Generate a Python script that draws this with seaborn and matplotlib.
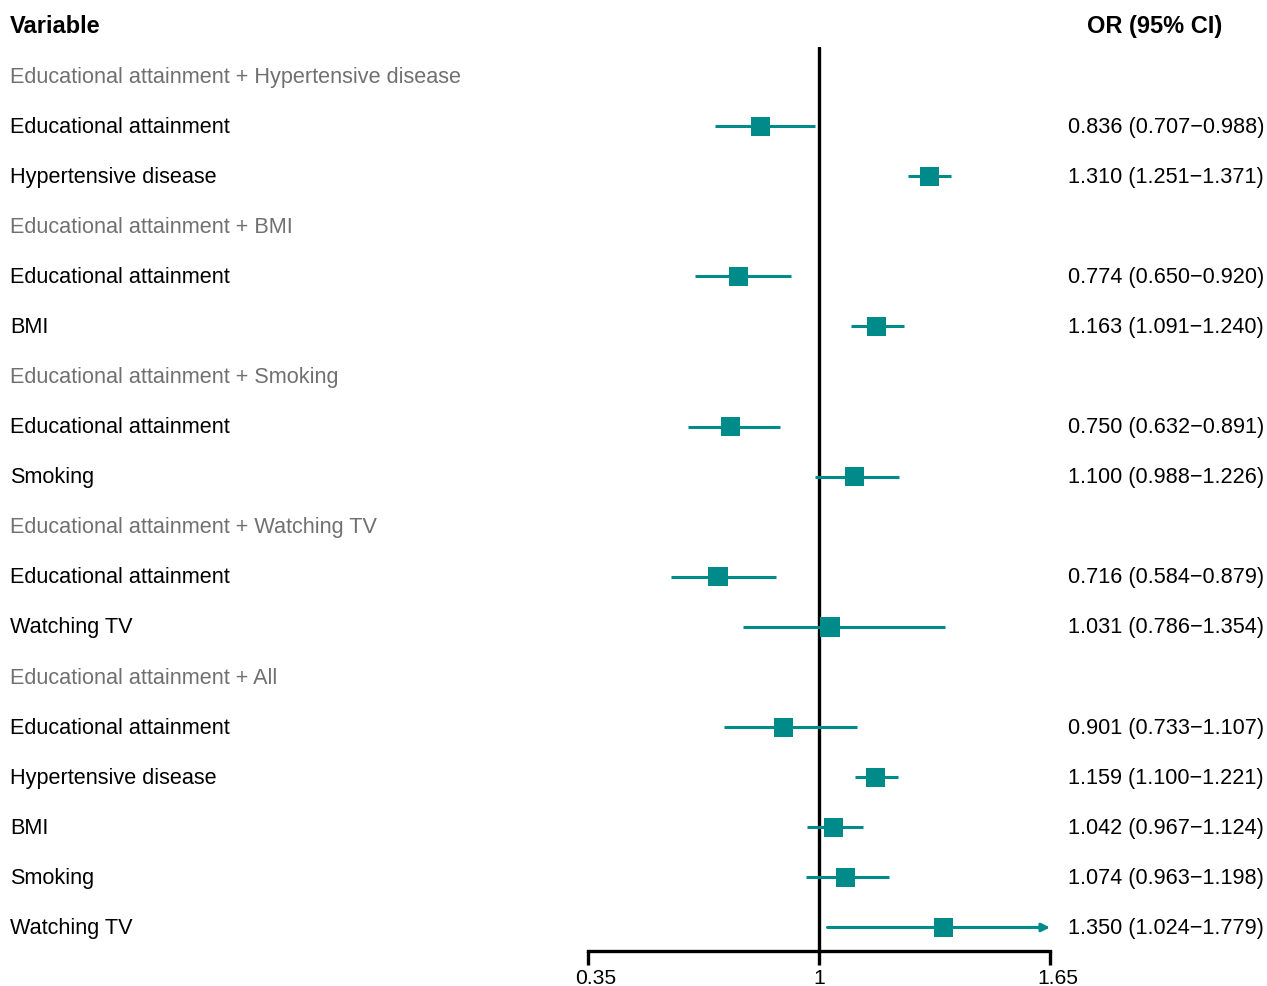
import numpy as np
import pandas as pd
import matplotlib
matplotlib.use("Agg")
import matplotlib.pyplot as plt
import matplotlib.transforms as mtransforms
import seaborn as sns

# filas del forest plot (None = fila de encabezado de grupo)
labels = ["Educational attainment + Hypertensive disease",
          "Educational attainment", "Hypertensive disease",
          "Educational attainment + BMI",
          "Educational attainment", "BMI",
          "Educational attainment + Smoking",
          "Educational attainment", "Smoking",
          "Educational attainment + Watching TV",
          "Educational attainment", "Watching TV",
          "Educational attainment + All",
          "Educational attainment", "Hypertensive disease", "BMI", "Smoking", "Watching TV"]
or_vals = [None, 0.836, 1.310, None, 0.774, 1.163, None, 0.750, 1.100,
           None, 0.716, 1.031, None, 0.901, 1.159, 1.042, 1.074, 1.350]
lo_vals = [None, 0.707, 1.251, None, 0.650, 1.091, None, 0.632, 0.988,
           None, 0.584, 0.786, None, 0.733, 1.100, 0.967, 0.963, 1.024]
hi_vals = [None, 0.988, 1.371, None, 0.920, 1.240, None, 0.891, 1.226,
           None, 0.879, 1.354, None, 1.107, 1.221, 1.124, 1.198, 1.779]
xticks = [0.35, 1, 1.65]
xticklabels = ["0.35", "1", "1.65"]

teal = "#008B8B"
xmin, xmax = 0.35, 1.65

df = pd.DataFrame({"label": labels, "OR": or_vals, "lo": lo_vals, "hi": hi_vals})
df["row"] = np.arange(len(df))
est = df.dropna().copy()

sns.set_style("white")
plt.rcParams["font.family"] = ["Liberation Sans", "DejaVu Sans"]
plt.rcParams["text.color"] = "black"

W, H = 1267, 987
fig = plt.figure(figsize=(W / 100, H / 100), dpi=100)
ax = fig.add_axes([588 / W, 35 / H, (1050 - 588) / W, (952 - 48) / H])

# IC (recortados al rango del eje)
for _, r in est.iterrows():
    hi = min(r["hi"], xmax)
    if r["hi"] > xmax:
        ax.annotate("", xy=(hi, r["row"]), xytext=(r["lo"], r["row"]),
                    arrowprops=dict(arrowstyle="-|>", color=teal, lw=2.2,
                                    mutation_scale=12, shrinkA=0, shrinkB=0))
    else:
        ax.hlines(r["row"], r["lo"], hi, color=teal, lw=2.2, zorder=2)

sns.scatterplot(data=est, x="OR", y="row", marker="s", s=190, color=teal,
                edgecolor="none", ax=ax, zorder=3)

ax.axvline(1, color="black", lw=2.4, zorder=1)
ax.set_xlim(xmin, xmax)
ax.set_ylim(17.47, -0.58)
ax.set_xticks(xticks)
ax.set_xticklabels(xticklabels, fontsize=15.2, color="black")
ax.set_yticks([])
ax.set_xlabel("")
ax.set_ylabel("")
for s in ["top", "right", "left"]:
    ax.spines[s].set_visible(False)
ax.spines["bottom"].set_linewidth(2.4)
ax.spines["bottom"].set_color("black")
ax.tick_params(axis="x", direction="out", length=10, width=2.4, color="black", pad=2,
               bottom=True)
# las etiquetas de los extremos van algo desplazadas a la derecha
for i in [0, 2]:
    lab = ax.get_xticklabels()[i]
    lab.set_transform(lab.get_transform() + mtransforms.ScaledTranslation(8 / 100, 0, fig.dpi_scale_trans))

# columnas de texto
tr = mtransforms.blended_transform_factory(fig.transFigure, ax.transData)
fig.text(10 / W, -1, "Variable", transform=tr, fontsize=17, fontweight="bold", va="center")
fig.text(1222 / W, -1, "OR (95% CI)", transform=tr, fontsize=17, fontweight="bold",
         va="center", ha="right")
for _, r in df.iterrows():
    if pd.isna(r["OR"]):
        fig.text(10 / W, r["row"], r["label"], transform=tr, fontsize=15.6,
                 color="#707070", va="center")
    else:
        fig.text(10 / W, r["row"], r["label"], transform=tr, fontsize=15.6, va="center")
        txt = f"{r['OR']:.3f} ({r['lo']:.3f}\u2212{r['hi']:.3f})"
        fig.text(1264 / W, r["row"], txt, transform=tr, fontsize=15.6, va="center", ha="right")

fig.savefig("out.png", dpi=100)
